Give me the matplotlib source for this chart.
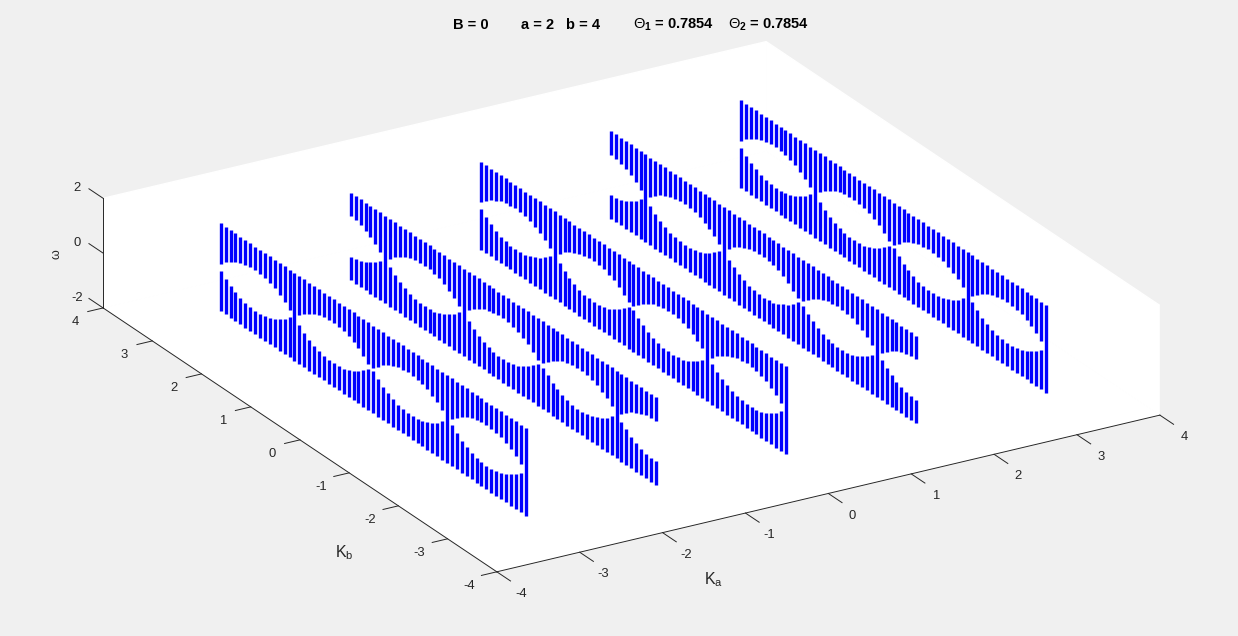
'''
dispersion bands of the lattice, drawn as vertical blue columns in a 3D box
'''
import matplotlib
matplotlib.use("Agg")
import matplotlib.pyplot as plt
from mpl_toolkits.mplot3d import proj3d

BG = '#f0f0f0'
INK = '#262626'

KA_EVEN = [-3.14, 0.0, 3.14]
KA_ODD = [-1.57, 1.57]

KB = [-3.14, -3.04, -2.94, -2.84, -2.74, -2.64, -2.54, -2.44, -2.34, -2.24, -2.14,
      -2.04, -1.94, -1.84, -1.74, -1.64, -1.54, -1.44, -1.34, -1.24, -1.14,
      -1.04, -0.94, -0.84, -0.74, -0.64, -0.54, -0.44, -0.34, -0.24, -0.14,
      -0.04, 0.06, 0.16, 0.26, 0.36, 0.46, 0.56, 0.66, 0.76, 0.86,
      0.96, 1.06, 1.16, 1.26, 1.36, 1.46, 1.56, 1.66, 1.76, 1.86,
      1.96, 2.06, 2.16, 2.26, 2.36, 2.46, 2.56, 2.66, 2.76, 2.86,
      2.96, 3.06]

# half width of the gap around w = 0, one value per KB column
GAP_EVEN = [0.0, 0.16, 0.33, 0.46, 0.57, 0.655, 0.705, 0.735, 0.745, 0.725, 0.69,
            0.63, 0.54, 0.425, 0.28, 0.115, 0.0, 0.21, 0.37, 0.49, 0.595,
            0.675, 0.715, 0.74, 0.74, 0.72, 0.68, 0.61, 0.51, 0.39, 0.23,
            0.07, 0.09, 0.25, 0.41, 0.525, 0.62, 0.69, 0.72, 0.74, 0.735,
            0.71, 0.66, 0.58, 0.475, 0.345, 0.18, 0.0, 0.14, 0.31, 0.445,
            0.56, 0.645, 0.70, 0.73, 0.745, 0.73, 0.695, 0.64, 0.55, 0.435,
            0.30, 0.13]
GAP_ODD = [0.745, 0.73, 0.70, 0.64, 0.555, 0.44, 0.30, 0.135, 0.0, 0.185, 0.35,
           0.48, 0.585, 0.665, 0.71, 0.74, 0.74, 0.72, 0.685, 0.625, 0.52,
           0.405, 0.25, 0.09, 0.07, 0.235, 0.395, 0.51, 0.615, 0.68, 0.72,
           0.74, 0.74, 0.715, 0.67, 0.595, 0.49, 0.365, 0.205, 0.0, 0.115,
           0.285, 0.425, 0.545, 0.635, 0.69, 0.725, 0.745, 0.735, 0.705, 0.655,
           0.57, 0.46, 0.325, 0.155, 0.0, 0.165, 0.335, 0.465, 0.575, 0.655,
           0.705, 0.735]
W_TOP = 1.6

KA_TICKS = [-4, -3, -2, -1, 0, 1, 2, 3, 4]
KB_TICKS = [-4, -3, -2, -1, 0, 1, 2, 3, 4]
W_TICKS = [-2, 0, 2]

TITLE_PARTS = ['B = 0', 'a = 2', 'b = 4',
               r'$\mathrm{\Theta}_{\mathbf{1}}$ = 0.7854',
               r'$\mathrm{\Theta}_{\mathbf{2}}$ = 0.7854']
TITLE_X = [453, 521, 566, 633, 728]


def draw_wall(ax, ka, gaps):
    for kb, gap in zip(KB, gaps):
        if gap == 0:
            # closed gap: one solid column, two segments leave a seam
            ax.plot([ka, ka], [kb, kb], [-W_TOP, W_TOP], color='#0000ff', lw=2.4, solid_capstyle='butt')
            continue
        ax.plot([ka, ka], [kb, kb], [gap, W_TOP], color='#0000ff', lw=2.4, solid_capstyle='butt')
        ax.plot([ka, ka], [kb, kb], [-W_TOP, -gap], color='#0000ff', lw=2.4, solid_capstyle='butt')


def tick_label(ax, x, y, z, text):
    # flat text at the projected spot of a 3D point
    px, py, _ = proj3d.proj_transform(x, y, z, ax.get_proj())
    ax.text2D(px, py, text, transform=ax.transData, ha='center', va='center', fontsize=9.4, color=INK)


def main():
    plt.rcParams['font.family'] = ['Liberation Sans', 'DejaVu Sans']
    plt.rcParams['axes.unicode_minus'] = False
    plt.rcParams['mathtext.fontset'] = 'custom'
    plt.rcParams['mathtext.rm'] = 'Liberation Sans'
    plt.rcParams['mathtext.it'] = 'Liberation Sans:italic'
    plt.rcParams['mathtext.bf'] = 'Liberation Sans:bold'

    fig = plt.figure(figsize=(12.38, 6.36), dpi=100, facecolor=BG)
    # square axes larger than the figure, the box only fills part of it
    size = 1065
    ax = fig.add_axes([84.6 / 1238, -217.6 / 636, size / 1238, size / 636], projection='3d')
    ax.set_facecolor(BG)
    ax.set_proj_type('ortho')
    ax.view_init(elev=23.45, azim=-120.7)
    ax.set_box_aspect((1, 1, 0.155))
    ax.grid(False)

    for axis in (ax.xaxis, ax.yaxis, ax.zaxis):
        axis.set_pane_color('white')
        axis.pane.set_edgecolor('white')
        axis.line.set_color(INK)
        axis.line.set_linewidth(0.7)
        axis._axinfo['tick']['inward_factor'] = 0
        axis._axinfo['tick']['linewidth'] = {True: 0.7, False: 0.7}
        axis._axinfo['tick']['color'] = INK
    # negative: this view has the default tick direction pointing into the box
    ax.xaxis._axinfo['tick']['outward_factor'] = -0.435
    ax.yaxis._axinfo['tick']['outward_factor'] = -0.29
    ax.zaxis._axinfo['tick']['outward_factor'] = 0.45
    ax.zaxis.set_ticks_position('upper')
    # z ticks should run along KB, not KA
    ax.zaxis._get_tickdir = lambda position: 1

    ax.set_xticks(KA_TICKS)
    ax.set_yticks(KB_TICKS)
    ax.set_zticks(W_TICKS)
    for axis in (ax.xaxis, ax.yaxis, ax.zaxis):
        axis.set_tick_params(color=INK, label1On=False, label2On=False)

    for ka in KA_EVEN:
        draw_wall(ax, ka, GAP_EVEN)
    for ka in KA_ODD:
        draw_wall(ax, ka, GAP_ODD)
    ax.set_xlim(-4, 4)
    ax.set_ylim(-4, 4)
    ax.set_zlim(-2, 2)

    # tick labels placed by hand, the automatic pad can't reach the spots in this view
    for v in KA_TICKS:
        tick_label(ax, v, -4.487, -2.22, str(v))
    for v in KB_TICKS:
        tick_label(ax, -4.338, v, -2.27, str(v))
    for v in W_TICKS:
        tick_label(ax, -4, 4.53, v - 0.27, str(v))

    for part, x in zip(TITLE_PARTS, TITLE_X):
        fig.text(x / 1238, 1 - 29 / 636, part, ha='left', va='baseline', fontsize=10.5, fontweight='bold', color='black')
    fig.text(714 / 1238, 1 - 580 / 636, r'$\mathrm{K_a}$', ha='center', va='center', fontsize=11.5, color=INK)
    fig.text(344 / 1238, 1 - 553 / 636, r'$\mathrm{K_b}$', ha='center', va='center', fontsize=11.5, color=INK)
    fig.text(57 / 1238, 1 - 254 / 636, 'ω', ha='center', va='center', fontsize=9, rotation=90, color=INK)

    fig.savefig('out.png', dpi=100, facecolor=BG)


if __name__ == "__main__":
    main()
